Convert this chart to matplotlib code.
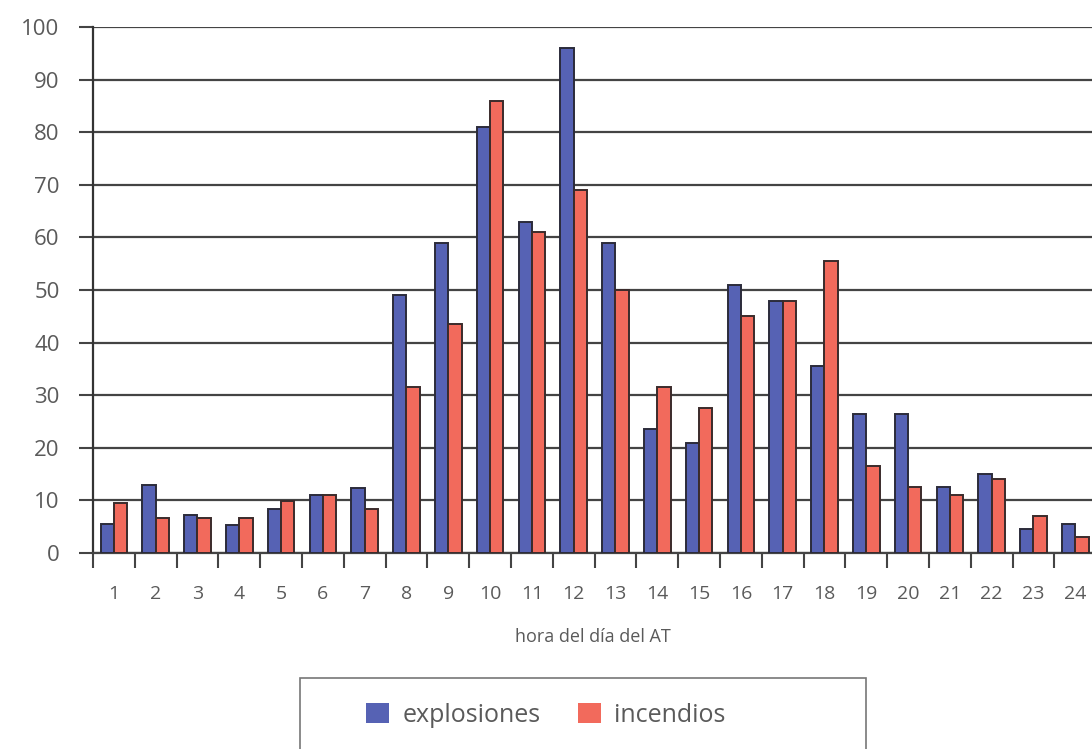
import matplotlib.pyplot as plt
from matplotlib.patches import Rectangle, Patch
import numpy as np

# accidents by hour of the day
horas = list(range(1, 25))
explosiones = [5.5, 13, 7.3, 5.3, 8.3, 11, 12.3, 49, 59, 81, 63, 96,
               59, 23.5, 21, 51, 48, 35.5, 26.5, 26.5, 12.5, 15, 4.5, 5.5]
incendios = [9.5, 6.7, 6.7, 6.7, 9.8, 11, 8.3, 31.5, 43.5, 86, 61, 69,
             50, 31.5, 27.5, 45, 48, 55.5, 16.5, 12.5, 11, 14, 7, 3]

azul = '#5662b4'
rojo = '#f26a5c'
gris = '#5a5a5a'

plt.rcParams['font.family'] = ['Open Sans', 'DejaVu Sans']

fig = plt.figure(figsize=(10.92, 7.49), dpi=100)
ax = fig.add_axes([93 / 1092, 196 / 749, 999 / 1092, 526 / 749])

x = np.array(horas)
w = 0.32
ax.bar(x - w / 2, explosiones, width=w, color=azul, edgecolor='#2b2b3a', linewidth=1.4, zorder=3)
ax.bar(x + w / 2, incendios, width=w, color=rojo, edgecolor='#3a2b2b', linewidth=1.4, zorder=3)

ax.set_xlim(0.5, 24.4)
ax.set_ylim(0, 100)

ax.set_yticks(range(0, 101, 10))
ax.yaxis.grid(True, color='#444444', linewidth=1.6, zorder=1)
ax.tick_params(axis='y', length=10, width=1.5, color='#444444', labelsize=16,
               labelcolor=gris, pad=14)

ax.set_xticks(x)
ax.set_xticklabels([str(h) for h in horas])
ax.set_xticks(np.arange(0.5, 24.5, 1), minor=True)
ax.tick_params(axis='x', which='major', length=0, labelsize=14, labelcolor=gris, pad=23)
ax.tick_params(axis='x', which='minor', length=11, width=1.5, color='#444444')

for s in ['top', 'right']:
    ax.spines[s].set_visible(False)
ax.spines['left'].set_color('#333333')
ax.spines['left'].set_linewidth(1.6)
ax.spines['bottom'].set_color('#444444')
ax.spines['bottom'].set_linewidth(1.6)

ax.set_xlabel('hora del día del AT', fontsize=13, color=gris, labelpad=18)

# legend box running off the bottom edge
fig.patches.append(Rectangle((300 / 1092, -0.05), 566 / 1092, 71 / 749 + 0.05,
                             transform=fig.transFigure, fill=False,
                             edgecolor='#777777', linewidth=1.2))
handles = [Patch(facecolor=azul, edgecolor='none', label='explosiones'),
           Patch(facecolor=rojo, edgecolor='none', label='incendios')]
fig.legend(handles=handles, loc='center', bbox_to_anchor=(546 / 1092, 34 / 749),
           ncol=2, frameon=False, fontsize=18, handlelength=0.9, handleheight=0.85,
           handletextpad=0.55, columnspacing=1.5, labelcolor=gris)

fig.savefig('out.png', dpi=100, facecolor='white')
